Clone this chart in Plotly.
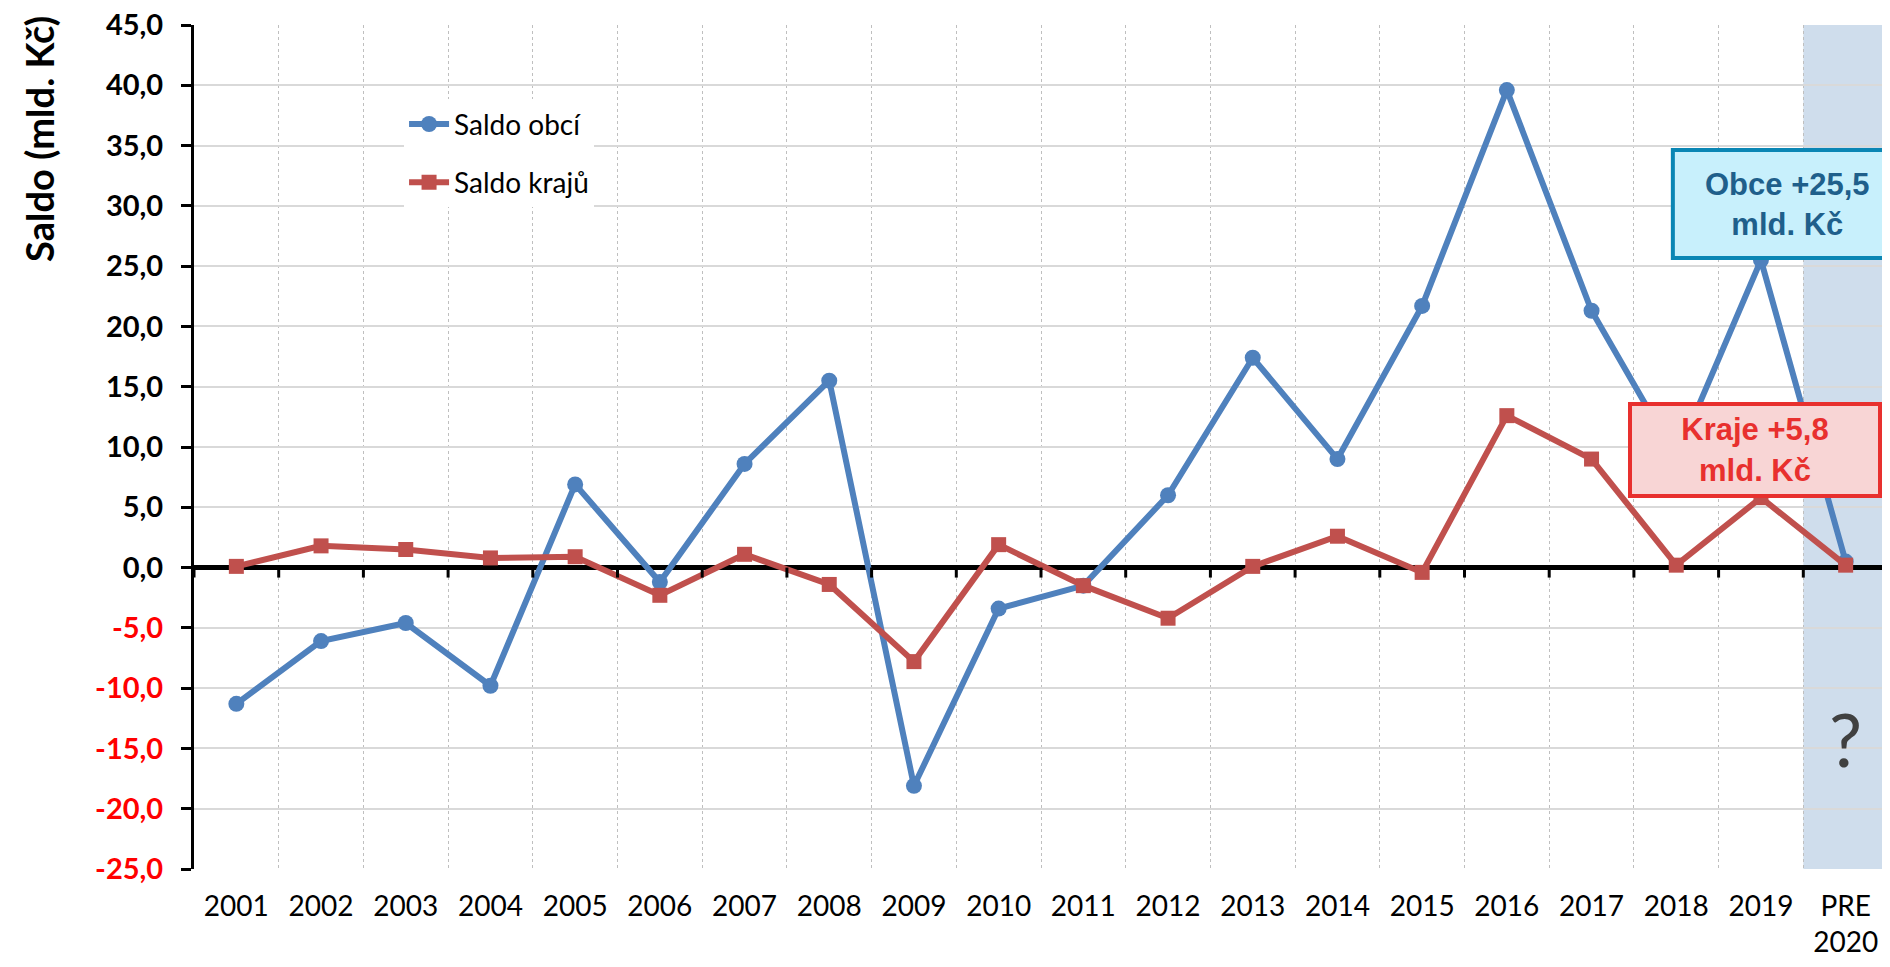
import plotly.graph_objects as go

# Data
years = [str(y) for y in range(2001, 2020)] + ["PRE<br>2020"]
saldo_obci = [-11.3, -6.1, -4.6, -9.8, 6.9, -1.2, 8.6, 15.5, -18.1, -3.4,
              -1.5, 6.0, 17.4, 9.0, 21.7, 39.6, 21.3, 9.1, 25.5, 0.5]
saldo_kraju = [0.1, 1.8, 1.5, 0.8, 0.9, -2.3, 1.1, -1.4, -7.8, 1.9,
               -1.5, -4.2, 0.1, 2.6, -0.4, 12.6, 9.0, 0.2, 5.8, 0.2]
y_ticks = list(range(-25, 50, 5))

BLUE = "#4F81BD"
RED = "#C0504D"


def fmt(v):
    s = f"{v:.1f}".replace(".", ",")
    return f"<span style='color:#FF0000'>{s}</span>" if v < 0 else s


fig = go.Figure()

fig.add_trace(go.Scatter(
    x=years, y=saldo_obci, name="Saldo obcí", mode="lines+markers",
    line=dict(color=BLUE, width=6),
    marker=dict(symbol="circle", size=16, color=BLUE),
    legendgroup="a",
))
fig.add_trace(go.Scatter(
    x=years, y=saldo_kraju, name="Saldo krajů", mode="lines+markers",
    line=dict(color=RED, width=6),
    marker=dict(symbol="square", size=15, color=RED),
    legendgroup="b",
))

# shaded forecast column
n = len(years)
fig.add_shape(type="rect", xref="x", yref="paper", x0=n - 1.5, x1=n - 0.5,
              y0=0, y1=1, fillcolor="rgb(207,221,236)", line_width=0,
              layer="below")

# small ticks on the zero line at category boundaries
for k in range(n + 1):
    fig.add_shape(type="line", xref="x", yref="y", ysizemode="pixel",
                  yanchor=0, x0=k - 0.5, x1=k - 0.5, y0=0, y1=-10,
                  line=dict(color="black", width=3))

# callout for municipalities: box runs past the right edge (clipped)
fig.add_shape(type="rect", xref="x", yref="y", x0=16.96, x1=19.8,
              y0=25.68, y1=34.63, fillcolor="#C8F0FC",
              line=dict(color="#0A86B4", width=4), layer="above")
fig.add_annotation(
    text="Obce +25,5<br>mld. Kč", xref="x", yref="y", x=18.31, y=30.1,
    showarrow=False, font=dict(family="Liberation Sans", size=31,
                               color="#1F5F8B", weight="bold"),
    align="center",
)
fig.add_annotation(
    text="Kraje +5,8<br>mld. Kč", xref="x", yref="y", x=17.93, y=9.76,
    showarrow=False, font=dict(family="Liberation Sans", size=31,
                               color="#E8302E", weight="bold"),
    bgcolor="#F8D5D5", bordercolor="#E8302E", borderwidth=4, borderpad=8,
    width=230, height=72, align="center",
)
fig.add_annotation(
    text="?", xref="x", yref="y", x=n - 1, y=-14.2, showarrow=False,
    font=dict(family="Lato", size=74, color="#404040"),
)
fig.add_annotation(
    text="Saldo (mld. Kč)", xref="paper", yref="paper", x=-0.0915, y=0.865,
    textangle=-90, showarrow=False, xanchor="center", yanchor="middle",
    font=dict(family="Lato", size=38, color="black", weight="bold"),
)

fig.update_layout(
    width=1882, height=959,
    margin=dict(l=186, r=2, t=17, b=98, autoexpand=False),
    paper_bgcolor="white", plot_bgcolor="rgba(0,0,0,0)",
    font=dict(family="Lato", color="black"),
    showlegend=True,
    legend=dict(
        x=0.124, y=0.912, xanchor="left", yanchor="top",
        bgcolor="white", font=dict(family="Lato", size=28, color="black"),
        tracegroupgap=19, itemwidth=40,
    ),
)

fig.update_xaxes(
    type="category", range=[-0.5, n - 0.5], tickson="boundaries", ticks="",
    automargin=False,
    showgrid=True, gridcolor="#BFBFBF", griddash="dot", gridwidth=1,
    showline=False, zeroline=False,
    tickfont=dict(family="Lato", size=28, color="black"),
    ticklabelstandoff=18,
)
fig.update_yaxes(
    range=[-25, 45], tickvals=y_ticks, ticktext=[fmt(v) for v in y_ticks],
    automargin=False, ticklabeloverflow="allow",
    ticks="outside", ticklen=10, tickwidth=3, tickcolor="black",
    showline=True, linecolor="black", linewidth=3,
    showgrid=True, gridcolor="#D9D9D9", gridwidth=2,
    zeroline=True, zerolinecolor="black", zerolinewidth=5,
    tickfont=dict(family="Lato", size=29, color="black", weight="bold"),
    ticklabelstandoff=12,
)

fig.write_html("out.html")
